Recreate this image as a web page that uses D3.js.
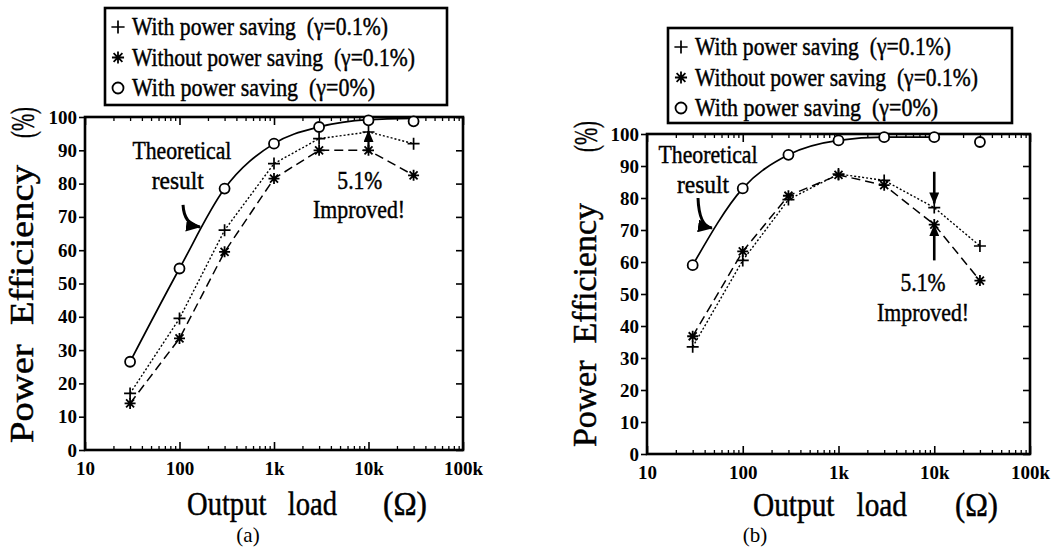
<!DOCTYPE html>
<html>
<head>
<meta charset="utf-8">
<script src="https://cdn.jsdelivr.net/npm/d3@7"></script>
<style>
  body { margin: 0; background: #fff; }
  text { font-family: "Liberation Serif", "DejaVu Serif", "Times New Roman", serif; fill: #000; white-space: pre; }
  text.heavy { stroke: #000; stroke-width: 0.45px; }
</style>
</head>
<body>
<script>
// load values (ohm) where the points were measured
const loads = [30, 100, 300, 1000, 3000, 10000, 30000];
const xTickValues = [10, 100, 1000, 10000, 100000];
const xTickLabels = ["10", "100", "1k", "10k", "100k"];
const yTickValues = [0, 10, 20, 30, 40, 50, 60, 70, 80, 90, 100];

// panel (a)
const aWithSaving = [17, 39.5, 66, 86, 93.5, 95.5, 92];
const aWithoutSaving = [14, 33.5, 59.5, 81.5, 90, 90, 82.5];
const aIdeal = [26.5, 54.5, 78.5, 92, 97, 99, 98.7];
const aTheory = [26.5, 54.5, 78.5, 92, 97, 99.2, 99.6];

// panel (b)
const bWithSaving = [33.5, 60.5, 79.5, 87.5, 85.5, 77, 65];
const bWithoutSaving = [36.8, 63.3, 80.7, 87.2, 84, 71.7, 54.2];
const bIdeal = [59, 83, 93.5, 98, 99, 99, 97.5];
const bTheory = [59, 83, 93.5, 98, 99, 99];

const legendLabels = ["With power saving  (γ=0.1%)", "Without power saving  (γ=0.1%)", "With power saving  (γ=0%)"];
const legendTypes = ["plus", "star", "circle"];
const legendWidths = [256, 283, 243];

const svg = d3.select("body").append("svg")
    .attr("width", 1055)
    .attr("height", 551);

const defs = svg.append("defs");
[["head", 12, 10], ["bighead", 15, 13]].forEach(([id, w, h]) => {
    defs.append("marker")
        .attr("id", id)
        .attr("markerUnits", "userSpaceOnUse")
        .attr("markerWidth", w)
        .attr("markerHeight", h)
        .attr("refX", w - 1)
        .attr("refY", h / 2)
        .attr("orient", "auto")
        .append("path")
        .attr("d", `M0,0L${w},${h / 2}L0,${h}Z`)
        .attr("fill", "#000");
});

// small helper, texts in the picture are narrow so textLength squeezes them
function label(g, txt, x, y, size, opts = {}) {
    const t = g.append("text")
        .text(txt)
        .attr("x", x)
        .attr("y", y)
        .attr("font-size", size)
        .attr("text-anchor", opts.anchor || "start")
        .attr("font-weight", opts.bold ? "bold" : "normal")
        .classed("heavy", !opts.bold);
    if (opts.dy) t.attr("dy", opts.dy);
    if (opts.len) t.attr("textLength", opts.len).attr("lengthAdjust", "spacingAndGlyphs");
    if (opts.transform) t.attr("transform", opts.transform);
    return t;
}

function drawMarker(g, type, x, y, s = 1) {
    if (type === "plus") {
        g.append("path")
            .attr("d", `M${x - 6 * s},${y}H${x + 6 * s}M${x},${y - 6 * s}V${y + 6 * s}`)
            .attr("stroke", "#000").attr("stroke-width", 1.7).attr("fill", "none");
    } else if (type === "star") {
        const r = 5.5 * s, q = 4 * s;
        g.append("path")
            .attr("d", `M${x - r},${y}H${x + r}M${x},${y - r}V${y + r}M${x - q},${y - q}L${x + q},${y + q}M${x - q},${y + q}L${x + q},${y - q}`)
            .attr("stroke", "#000").attr("stroke-width", 1.8).attr("fill", "none");
    } else {
        g.append("circle")
            .attr("cx", x).attr("cy", y).attr("r", 5 * s)
            .attr("fill", "#fff").attr("stroke", "#000").attr("stroke-width", 1.8);
    }
}

function drawPanel(p) {
    const g = svg.append("g");
    const x = d3.scaleLog().domain([10, 100000]).range([p.left, p.right]);
    const y = d3.scaleLinear().domain([0, 100]).range([p.bottom, p.top]);

    const minor = [];
    [10, 100, 1000, 10000].forEach(d => { for (let m = 2; m <= 9; m++) minor.push(d * m); });

    // bottom axis
    g.append("g")
        .attr("transform", `translate(0,${p.bottom})`)
        .call(d3.axisBottom(x).tickValues(xTickValues).tickSize(-8).tickPadding(12)
            .tickFormat((d, i) => xTickLabels[i]))
        .call(a => a.select(".domain").remove())
        .call(a => a.selectAll("line").attr("stroke-width", 1.6))
        .call(a => a.selectAll("text")
            .attr("font-size", 19).attr("font-weight", "bold").attr("fill", "#000"));
    g.append("g")
        .attr("transform", `translate(0,${p.bottom})`)
        .call(d3.axisBottom(x).tickValues(minor).tickSize(-4).tickFormat(""))
        .call(a => a.select(".domain").remove())
        .call(a => a.selectAll("line").attr("stroke-width", 1.3));

    // top axis, ticks only
    g.append("g")
        .attr("transform", `translate(0,${p.top})`)
        .call(d3.axisTop(x).tickValues(xTickValues).tickSize(-8).tickFormat(""))
        .call(a => a.select(".domain").remove())
        .call(a => a.selectAll("line").attr("stroke-width", 1.6));
    g.append("g")
        .attr("transform", `translate(0,${p.top})`)
        .call(d3.axisTop(x).tickValues(minor).tickSize(-4).tickFormat(""))
        .call(a => a.select(".domain").remove())
        .call(a => a.selectAll("line").attr("stroke-width", 1.3));

    // left axis with labels, ticks point out
    g.append("g")
        .attr("transform", `translate(${p.left},0)`)
        .call(d3.axisLeft(y).tickValues(yTickValues).tickSize(6).tickPadding(2))
        .call(a => a.select(".domain").remove())
        .call(a => a.selectAll("line").attr("stroke-width", 1.6))
        .call(a => a.selectAll("text")
            .attr("font-size", 19).attr("font-weight", "bold").attr("fill", "#000"));

    // right axis, ticks point in
    g.append("g")
        .attr("transform", `translate(${p.right},0)`)
        .call(d3.axisRight(y).tickValues(yTickValues).tickSize(-7).tickFormat(""))
        .call(a => a.select(".domain").remove())
        .call(a => a.selectAll("line").attr("stroke-width", 1.6));

    g.append("rect")
        .attr("x", p.left).attr("y", p.top)
        .attr("width", p.right - p.left).attr("height", p.bottom - p.top)
        .attr("fill", "none").attr("stroke", "#000").attr("stroke-width", 2.6);

    const line = d3.line().x(d => x(d[0])).y(d => y(d[1]));

    g.append("path")
        .datum(p.theory.map((v, i) => [loads[i], v]))
        .attr("d", line.curve(d3.curveMonotoneX))
        .attr("fill", "none").attr("stroke", "#000").attr("stroke-width", 1.7);
    line.curve(d3.curveLinear);

    g.append("path")
        .datum(p.withSaving.map((v, i) => [loads[i], v]))
        .attr("d", line)
        .attr("fill", "none").attr("stroke", "#000").attr("stroke-width", 1.4)
        .attr("stroke-dasharray", "2,2");

    g.append("path")
        .datum(p.withoutSaving.map((v, i) => [loads[i], v]))
        .attr("d", line)
        .attr("fill", "none").attr("stroke", "#000").attr("stroke-width", 1.5)
        .attr("stroke-dasharray", "9,5");

    p.ideal.forEach((v, i) => drawMarker(g, "circle", x(loads[i]), y(v)));
    p.withSaving.forEach((v, i) => drawMarker(g, "plus", x(loads[i]), y(v)));
    p.withoutSaving.forEach((v, i) => drawMarker(g, "star", x(loads[i]), y(v)));

    // annotations
    const n = p.notes;
    label(g, "Theoretical", x(n.theo[0]), y(n.theo[1]), 26, { anchor: "middle", dy: "0.35em", len: 99 });
    label(g, "result", x(n.result[0]), y(n.result[1]), 26, { anchor: "middle", dy: "0.35em", len: 52 });
    const s = [x(n.curve[0]), y(n.curve[1])], e = [x(n.curve[2]), y(n.curve[3])];
    g.append("path")
        .attr("d", `M${s[0]},${s[1]}Q${s[0] + 1},${e[1] - 2} ${e[0]},${e[1]}`)
        .attr("fill", "none").attr("stroke", "#000").attr("stroke-width", 3)
        .attr("marker-end", "url(#bighead)");
    label(g, "5.1%", x(n.pct[0]), y(n.pct[1]), 26, { anchor: "middle", dy: "0.35em", len: 45 });
    label(g, "Improved!", x(n.imp[0]), y(n.imp[1]), 26, { anchor: "middle", dy: "0.35em", len: 92 });
    n.arrows.forEach(a => {
        g.append("line")
            .attr("x1", x(a[0])).attr("x2", x(a[0]))
            .attr("y1", y(a[1])).attr("y2", y(a[2]))
            .attr("stroke", "#000").attr("stroke-width", a[3])
            .attr("marker-end", "url(#head)");
    });

    // axis titles
    label(g, "Output   load", p.xt[0], p.xt[1], 34, { len: p.xt[2] });
    label(g, "(Ω)", p.xo[0], p.xt[1], 34, { len: p.xo[1] });
    label(g, "Power  Efficiency", 0, 0, 33, { len: p.yt[2], transform: `translate(${p.yt[0]},${p.yt[1]}) rotate(-90)` });
    label(g, "(%)", 0, 0, 34, { len: 31, transform: `translate(${p.yt[0] + 1},${p.yt[3]}) rotate(-90)` });
    label(g, p.caption, p.cap[0], p.cap[1], 21, { anchor: "middle" }).classed("heavy", false);

    // legend
    const L = p.legend;
    g.append("rect")
        .attr("x", L.x).attr("y", L.y).attr("width", L.w).attr("height", L.h)
        .attr("fill", "#fff").attr("stroke", "#000").attr("stroke-width", 2.6);
    legendLabels.forEach((t, i) => {
        const cy = L.y + 19 + i * 30.5;
        drawMarker(g, legendTypes[i], L.x + 13, cy, 1.1);
        label(g, t, L.x + 27, cy, 25, { dy: "0.33em", len: legendWidths[i] });
    });
}

drawPanel({
    left: 85, right: 463, top: 117, bottom: 450,
    withSaving: aWithSaving, withoutSaving: aWithoutSaving, ideal: aIdeal, theory: aTheory,
    notes: {
        theo: [106, 90], result: [96, 81], curve: [109, 73.6, 165, 67],
        pct: [8100, 81], imp: [7950, 72.5],
        arrows: [[10000, 90, 95.8, 2.2]]
    },
    xt: [187, 515, 150], xo: [383, 44],
    yt: [33, 443, 278, 138],
    caption: "(a)", cap: [248, 542],
    legend: { x: 105, y: 8, w: 342, h: 97 }
});

drawPanel({
    left: 647, right: 1030, top: 134, bottom: 454,
    withSaving: bWithSaving, withoutSaving: bWithoutSaving, ideal: bIdeal, theory: bTheory,
    notes: {
        theo: [43.4, 93.8], result: [38.5, 84.4], curve: [34.1, 80, 47.7, 70.6],
        pct: [7640, 53.8], imp: [7640, 44.4],
        arrows: [[10000, 88.2, 78.3, 2.6], [10000, 60.5, 71.5, 2.6]]
    },
    xt: [753, 516, 154], xo: [955, 43],
    yt: [596, 447, 244, 152],
    caption: "(b)", cap: [755, 542],
    legend: { x: 668, y: 28, w: 344, h: 95 }
});
</script>
</body>
</html>
